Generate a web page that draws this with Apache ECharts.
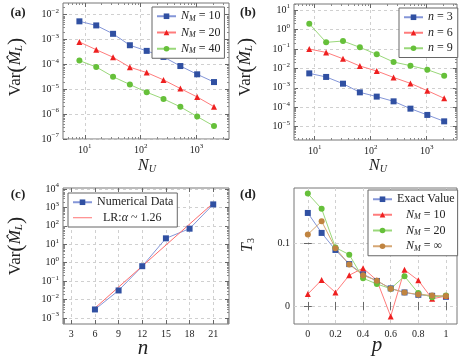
<!DOCTYPE html>
<html><head><meta charset="utf-8">
<script src="https://cdn.jsdelivr.net/npm/echarts@6/dist/echarts.min.js"></script>
<style>html,body{margin:0;padding:0;background:#fff}#c{width:463px;height:361px}</style>
</head><body><div id="c"></div>
<script>
// ---------- data ----------
const nuValues = [8, 16, 32, 64, 128, 256, 512, 1024, 2048];
const varNM10 = [5.4e-3, 3.7e-3, 1.7e-3, 5.9e-4, 3.5e-4, 2.0e-4, 8.6e-5, 4.0e-5, 1.95e-5];
const varNM20 = [8.0e-4, 3.9e-4, 1.94e-4, 7.7e-5, 4.7e-5, 2.38e-5, 1.07e-5, 4.9e-6, 2.0e-6];
const varNM40 = [1.42e-4, 7.9e-5, 3.2e-5, 1.55e-5, 7.6e-6, 4.1e-6, 1.96e-6, 8.0e-7, 3.3e-7];
const varN3 = [5.5e-3, 3.6e-3, 1.62e-3, 5.8e-4, 3.5e-4, 2.0e-4, 8.4e-5, 4.0e-5, 1.87e-5];
const varN6 = [0.098, 0.066, 0.031, 0.0131, 0.0073, 0.0034, 0.00168, 7.1e-4, 2.85e-4];
const varN9 = [1.98, 0.217, 0.254, 0.12, 0.0524, 0.0211, 0.0137, 0.0085, 0.0042];
const nValues = [6, 9, 12, 15, 18, 21];
const varNumerical = [2.95e-3, 0.0315, 0.65, 21, 70, 1450];
const lrN = [6, 21];
const lrVar = [3.5e-3, 1.7e3];
const pValues = [0, 0.1, 0.2, 0.3, 0.4, 0.5, 0.6, 0.7, 0.8, 0.9, 1];
const t3Exact = [0.149, 0.117, 0.0897, 0.067, 0.0508, 0.040, 0.0281, 0.0216, 0.0178, 0.0162, 0.0146];
const t3NM10 = [0.0189, 0.0416, 0.0216, 0.0492, 0.0605, 0.041, -0.0168, 0.0578, 0.041, 0.0114, 0.0157];
const t3NM20 = [0.18, 0.1557, 0.0935, 0.0822, 0.0443, 0.0351, 0.0276, 0.0476, 0.0205, 0.014, 0.0168];
const t3NMinf = [0.1146, 0.1357, 0.0924, 0.0665, 0.0492, 0.0405, 0.0276, 0.0216, 0.0184, 0.0168, 0.0157];
// tick labels
const ticksNU = [10, 100, 1000];
const ticksVarA = [1e-7, 1e-6, 1e-5, 1e-4, 1e-3, 1e-2];
const ticksVarB = [1e-5, 1e-4, 1e-3, 1e-2, 1e-1, 1, 10];
const ticksVarC = [1e-3, 1e-2, 1e-1, 1, 10, 100, 1e3, 1e4];
const ticksN = [3, 6, 9, 12, 15, 18, 21];
const ticksP = [0, 0.2, 0.4, 0.6, 0.8, 1];
const ticksT3 = [0, 0.1];

// ---------- helpers ----------
const FONT = 'Liberation Serif';
const TXT = '#222';
function minorLog(lo, hi) {
  const out = [];
  for (let e = Math.floor(Math.log10(lo)); e <= Math.ceil(Math.log10(hi)); e++)
    for (let k = 2; k <= 9; k++) { const v = k * Math.pow(10, e); if (v > lo && v < hi) out.push(v); }
  return out;
}
function supFmt(v) {
  const e = Math.round(Math.log10(v));
  return '{b|10}{s|' + (e < 0 ? '\u2212' + (-e) : e) + '}';
}
const richSup = {
  b: { fontSize: 10, fontFamily: FONT, color: TXT },
  s: { fontSize: 7, fontFamily: FONT, color: TXT, padding: [0, 0, 7, 0] }
};
const xAxes = [], yAxes = [];
function addAxes(list, dim, g, cfg) {
  const isX = dim === 'x';
  const p1 = isX ? 'bottom' : 'left', p2 = isX ? 'top' : 'right';
  const base = { type: cfg.type, gridIndex: g, min: cfg.min, max: cfg.max, axisLine: { show: false } };
  const mainIdx = list.length;
  list.push(Object.assign({}, base, {
    position: p1,
    axisTick: { show: true, inside: true, length: 4, customValues: cfg.major, lineStyle: { color: '#666' } },
    axisLabel: Object.assign({ customValues: cfg.major, fontFamily: FONT, fontSize: 10, color: TXT, margin: cfg.margin },
      cfg.log ? { formatter: supFmt, rich: richSup } : {}),
    splitLine: { show: true, lineStyle: { type: [3, 3], color: '#d0d0d0', width: 1 } }
  }));
  list.push(Object.assign({}, base, {
    position: p2,
    axisTick: { show: true, inside: true, length: 4, customValues: cfg.major, lineStyle: { color: '#666' } },
    axisLabel: { show: false }, splitLine: { show: false }
  }));
  if (cfg.log) {
    const mv = minorLog(cfg.min, cfg.max);
    [p1, p2].forEach(p => list.push(Object.assign({}, base, {
      position: p,
      axisTick: { show: true, inside: true, length: 2, customValues: mv, lineStyle: { color: '#888' } },
      axisLabel: { show: false }, splitLine: { show: false }
    })));
  }
  return mainIdx;
}

const grids = [
  { left: 63, top: 3, width: 166, height: 136 },
  { left: 294, top: 4, width: 163, height: 136 },
  { left: 63, top: 188, width: 166, height: 136 },
  { left: 294, top: 188, width: 163, height: 136 }
].map(g => Object.assign(g, { show: true, borderColor: '#777', borderWidth: 1, backgroundColor: 'transparent' }));

const ax = {
  x0: addAxes(xAxes, 'x', 0, { type: 'log', log: true, min: 4.07, max: 3800, major: ticksNU, margin: 4 }),
  y0: addAxes(yAxes, 'y', 0, { type: 'log', log: true, min: 1e-7, max: 0.0295, major: ticksVarA, margin: 4 }),
  x1: addAxes(xAxes, 'x', 1, { type: 'log', log: true, min: 4.27, max: 3470, major: ticksNU, margin: 4 }),
  y1: addAxes(yAxes, 'y', 1, { type: 'log', log: true, min: 2.05e-6, max: 20.4, major: ticksVarB, margin: 4 }),
  x2: addAxes(xAxes, 'x', 2, { type: 'value', log: false, min: 1.95, max: 23, major: ticksN, margin: 5 }),
  y2: addAxes(yAxes, 'y', 2, { type: 'log', log: true, min: 4.8e-4, max: 1.12e4, major: ticksVarC, margin: 4 }),
  x3: addAxes(xAxes, 'x', 3, { type: 'value', log: false, min: -0.1, max: 1.08, major: ticksP, margin: 5 }),
  y3: addAxes(yAxes, 'y', 3, { type: 'value', log: false, min: -0.029, max: 0.189, major: ticksT3, margin: 4 })
};

const C = {
  blue: { m: '#3050a2', l: '#8496d8' },
  red: { m: '#ee2020', l: '#ff7c7c' },
  green: { m: '#66c03a', l: '#9ad87a' },
  brown: { m: '#c08440', l: '#d6a774' }
};
function zip(a, b) { return a.map((v, i) => [v, b[i]]); }
function ser(name, xi, yi, xs, ys, col, symbol, size) {
  return {
    name, type: 'line', xAxisIndex: xi, yAxisIndex: yi, data: zip(xs, ys),
    symbol, symbolSize: size, showSymbol: symbol !== 'none',
    itemStyle: { color: col.m }, lineStyle: { color: col.l, width: 1 },
    emphasis: { disabled: true }, animation: false, z: 3
  };
}
const series = [
  ser('a10', ax.x0, ax.y0, nuValues, varNM10, C.blue, 'rect', 6),
  ser('a20', ax.x0, ax.y0, nuValues, varNM20, C.red, 'triangle', 6),
  ser('a40', ax.x0, ax.y0, nuValues, varNM40, C.green, 'circle', 6),
  ser('b3', ax.x1, ax.y1, nuValues, varN3, C.blue, 'rect', 6),
  ser('b6', ax.x1, ax.y1, nuValues, varN6, C.red, 'triangle', 6),
  ser('b9', ax.x1, ax.y1, nuValues, varN9, C.green, 'circle', 6),
  ser('cnum', ax.x2, ax.y2, nValues, varNumerical, C.blue, 'rect', 6),
  ser('clr', ax.x2, ax.y2, lrN, lrVar, { m: '#ff6b6b', l: '#ff6b6b' }, 'none', 0),
  ser('dex', ax.x3, ax.y3, pValues, t3Exact, C.blue, 'rect', 6),
  ser('d10', ax.x3, ax.y3, pValues, t3NM10, C.red, 'triangle', 6),
  ser('d20', ax.x3, ax.y3, pValues, t3NM20, C.green, 'circle', 6),
  ser('dinf', ax.x3, ax.y3, pValues, t3NMinf, C.brown, 'circle', 6)
];

const legRich = {
  i: { fontFamily: FONT, fontSize: 12, fontStyle: 'italic', color: TXT },
  s: { fontFamily: FONT, fontSize: 8, fontStyle: 'italic', color: TXT, padding: [5, 0, 0, 0] },
  t: { fontFamily: FONT, fontSize: 12, color: TXT },
  sp6: { fontSize: 12, width: 6 },
  sp9: { fontSize: 12, width: 9 }
};
const legendText = {
  a10: '{i|N}{s|M}{t| = 10}', a20: '{i|N}{s|M}{t| = 20}', a40: '{i|N}{s|M}{t| = 40}',
  b3: '{i|n}{t| = 3}', b6: '{i|n}{t| = 6}', b9: '{i|n}{t| = 9}',
  cnum: '{t|Numerical Data}', clr: '{sp6| }{t|LR:}{i|α}{t| ~ 1.26}',
  dex: '{t|Exact Value}', d10: '{sp9| }{i|N}{s|M}{t| = 10}', d20: '{sp9| }{i|N}{s|M}{t| = 20}', dinf: '{sp9| }{i|N}{s|M}{t| = ∞}'
};
function legend(names, left, top, gap, padR) {
  return {
    data: names, left, top, orient: 'vertical', itemWidth: 19, itemHeight: 7, itemGap: gap,
    padding: [3, padR, 3, 4], borderColor: '#666', borderWidth: 1, backgroundColor: '#fff',
    selectedMode: false, formatter: n => legendText[n],
    textStyle: { fontFamily: FONT, fontSize: 12, color: TXT, rich: legRich, lineHeight: 12.5 }
  };
}

const varTitle = '{v|Var}{p|(}{m|M\u0302}{l|L}{p|)}';
const varRich = {
  v: { fontFamily: FONT, fontSize: 17, fill: TXT },
  p: { fontFamily: FONT, fontSize: 22, fill: TXT },
  m: { fontFamily: FONT, fontSize: 17, fontStyle: 'italic', fill: TXT },
  l: { fontFamily: FONT, fontSize: 11, fontStyle: 'italic', fill: TXT, padding: [7, 0, 0, 0] }
};
const subRich = {
  i: { fontFamily: FONT, fontSize: 16, fontStyle: 'italic', fill: TXT },
  u: { fontFamily: FONT, fontSize: 10, fontStyle: 'italic', fill: TXT, padding: [6, 0, 0, 0] },
  r: { fontFamily: FONT, fontSize: 10, fill: TXT, padding: [6, 0, 0, 0] },
  big: { fontFamily: FONT, fontSize: 21, fontStyle: 'italic', fill: TXT }
};
function txt(x, y, text, rich, rot, font) {
  return { type: 'text', x, y, rotation: rot || 0, z: 10,
    style: Object.assign({ text, align: 'center', verticalAlign: 'middle', fill: TXT }, rich ? { rich } : {}, font ? { font } : {}) };
}
const graphic = [
  txt(18, 13, '(a)', null, 0, 'bold 13px "Liberation Serif"'),
  txt(248, 13, '(b)', null, 0, 'bold 13px "Liberation Serif"'),
  txt(18, 195, '(c)', null, 0, 'bold 13px "Liberation Serif"'),
  txt(248, 195, '(d)', null, 0, 'bold 13px "Liberation Serif"'),
  txt(16, 67, varTitle, varRich, Math.PI / 2),
  txt(246, 67, varTitle, varRich, Math.PI / 2),
  txt(16, 246, varTitle, varRich, Math.PI / 2),
  txt(248, 245, '{i|T}{r|3}', subRich, Math.PI / 2),
  txt(147, 166, '{i|N}{u|U}', subRich),
  txt(378, 166, '{i|N}{u|U}', subRich),
  txt(143, 348, '{big|n}', subRich),
  txt(377, 345, '{big|p}', subRich)
];

const chart = echarts.init(document.getElementById('c'), null, { renderer: 'canvas' });
chart.setOption({
  animation: false,
  backgroundColor: '#fff',
  grid: grids,
  xAxis: xAxes,
  yAxis: yAxes,
  series,
  legend: [
    legend(['a10', 'a20', 'a40'], 152, 7, 3.5, 4),
    legend(['b3', 'b6', 'b9'], 399, 8, 3, 5),
    legend(['cnum', { name: 'clr', icon: 'path://M0,0H20V1H0Z' }], 68, 193, 3, 4),
    legend(['dex', 'd10', 'd20', 'dinf'], 368, 190, 3, 3)
  ],
  graphic
});
</script></body></html>
